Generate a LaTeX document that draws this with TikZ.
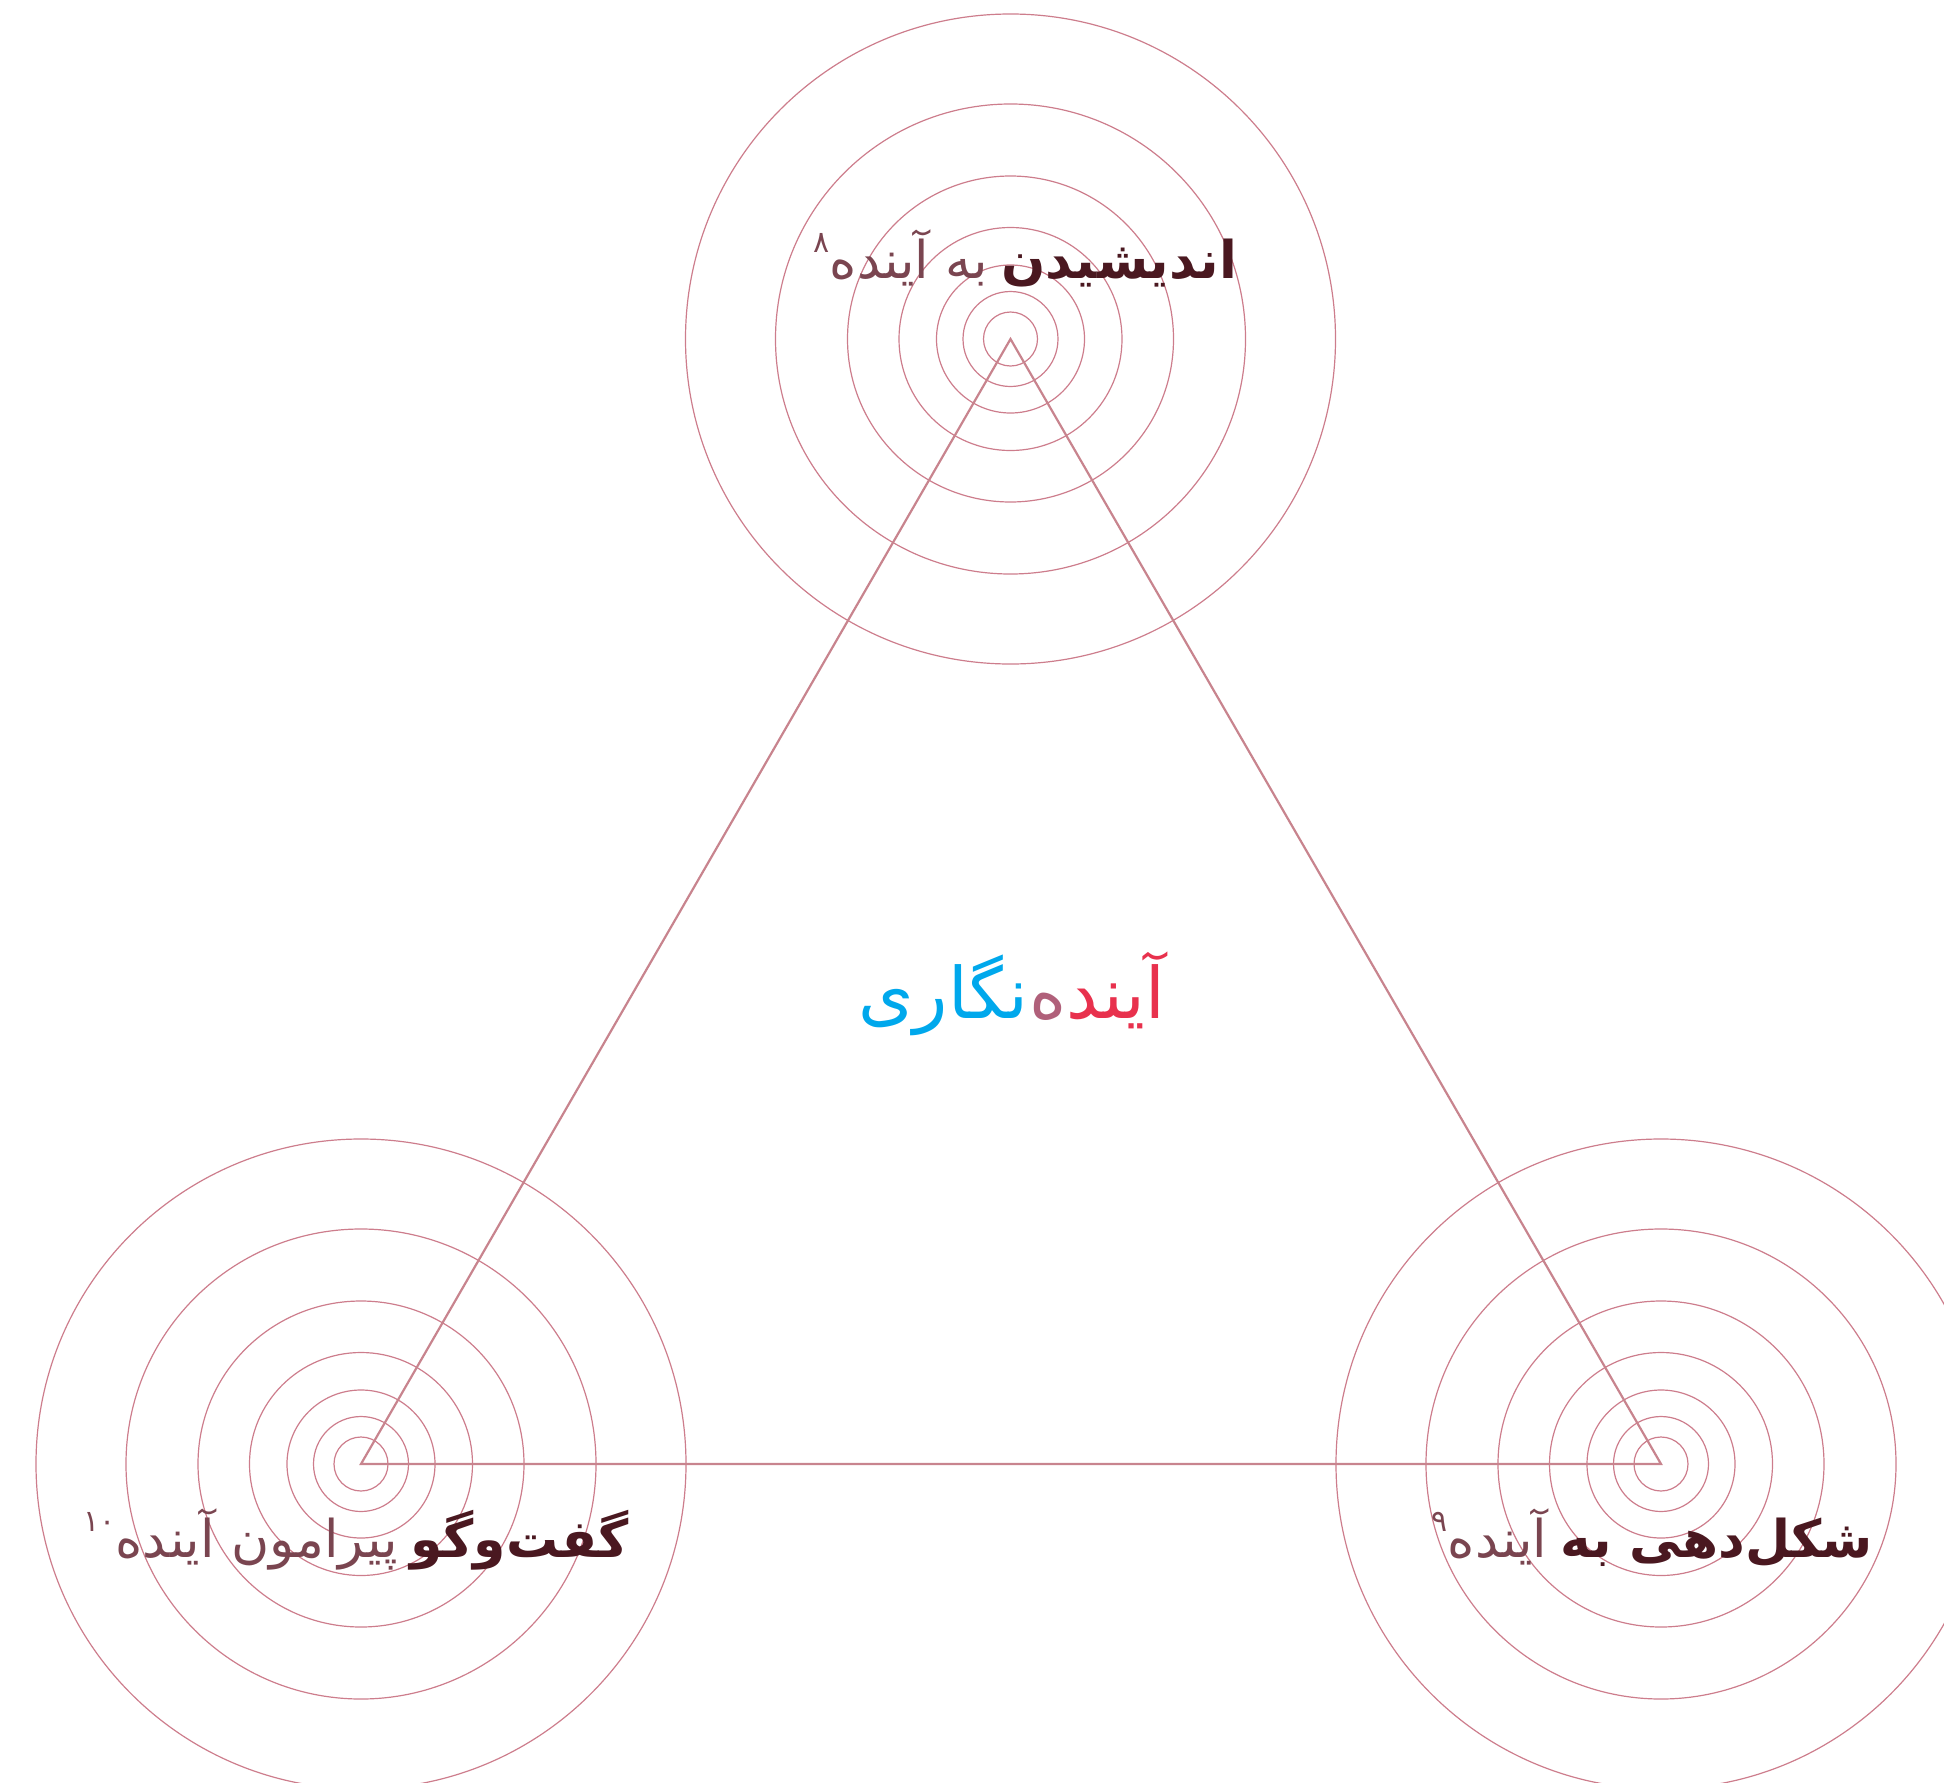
\documentclass[tikz,border=0pt]{standalone}
\usepackage{fontspec}
\newfontfamily\fa[Script=Arabic]{DejaVu Sans}
\TeXXeTstate=1
\definecolor{ring}{HTML}{CD7D8C}
\definecolor{edgec}{HTML}{C8848E}
\definecolor{darkt}{HTML}{4A1820}
\definecolor{mutedt}{HTML}{7A4550}
\definecolor{fred}{HTML}{E8314D}
\definecolor{fmid}{HTML}{B0607A}
\definecolor{fblue}{HTML}{00A8EC}
\begin{document}
\begin{tikzpicture}[x=1pt,y=-1pt,
  ringline/.style={draw=ring,line width=1.2pt},
  edgeline/.style={draw=edgec,line width=2.2pt},
  boldlbl/.style={inner sep=0pt,text=darkt,font=\fa\bfseries\fontsize{52}{60}\selectfont},
  reglbl/.style={inner sep=0pt,text=mutedt,font=\fa\fontsize{52}{60}\selectfont},
  suplbl/.style={inner sep=0pt,text=mutedt,font=\fa\fontsize{30}{34}\selectfont},
  titlelbl/.style={inner sep=0pt,font=\fa\fontsize{71}{80}\selectfont}]
\useasboundingbox (0,0) rectangle (1944,1783);
\clip (0,0) rectangle (1944,1783);
\coordinate (T) at (1010.5,339);
\coordinate (L) at (361,1464);
\coordinate (R) at (1661,1464);
\foreach \c in {T,L,R}{
  \foreach \r in {27,47.5,74,111.5,163,235,325}
    \draw[ringline] (\c) circle[radius=\r];
}
\draw[edgeline] (T) -- (R) -- (L) -- cycle;
% top label
\node[boldlbl,anchor=base east] (ta) at (1237,278) {\beginR اندیشیدن\endR};
\node[reglbl,anchor=base east] (tb) at ([xshift=-13pt]ta.base west) {\beginR به آینده\endR};
\node[suplbl,anchor=base east] (tc) at ([yshift=26pt]tb.base west) {\beginR ۸\endR};
% left label
\node[boldlbl,anchor=base east] (la) at (629,1557) {\beginR گفت‌وگو\endR};
\node[reglbl,anchor=base east] (lb) at ([xshift=-13pt]la.base west) {\beginR پیرامون آینده\endR};
\node[suplbl,anchor=base east] (lc) at ([yshift=26pt]lb.base west) {\beginR ۱۰\endR};
% right label
\node[boldlbl,anchor=base east] (ra) at (1873,1557) {\beginR شکل‌دهی به\endR};
\node[reglbl,anchor=base east] (rb) at ([xshift=-13pt]ra.base west) {\beginR آینده\endR};
\node[suplbl,anchor=base east] (rc) at ([yshift=26pt]rb.base west) {\beginR ۹\endR};
% title
\node[titlelbl,text=fred,anchor=base east] (ha) at (1165,1018) {\beginR آیند\endR};
\node[titlelbl,text=fmid,anchor=base east] (hb) at (ha.base west) {\beginR ه\endR};
\node[titlelbl,text=fblue,anchor=base east] (hc) at (hb.base west) {\beginR نگاری\endR};
\end{tikzpicture}
\end{document}
